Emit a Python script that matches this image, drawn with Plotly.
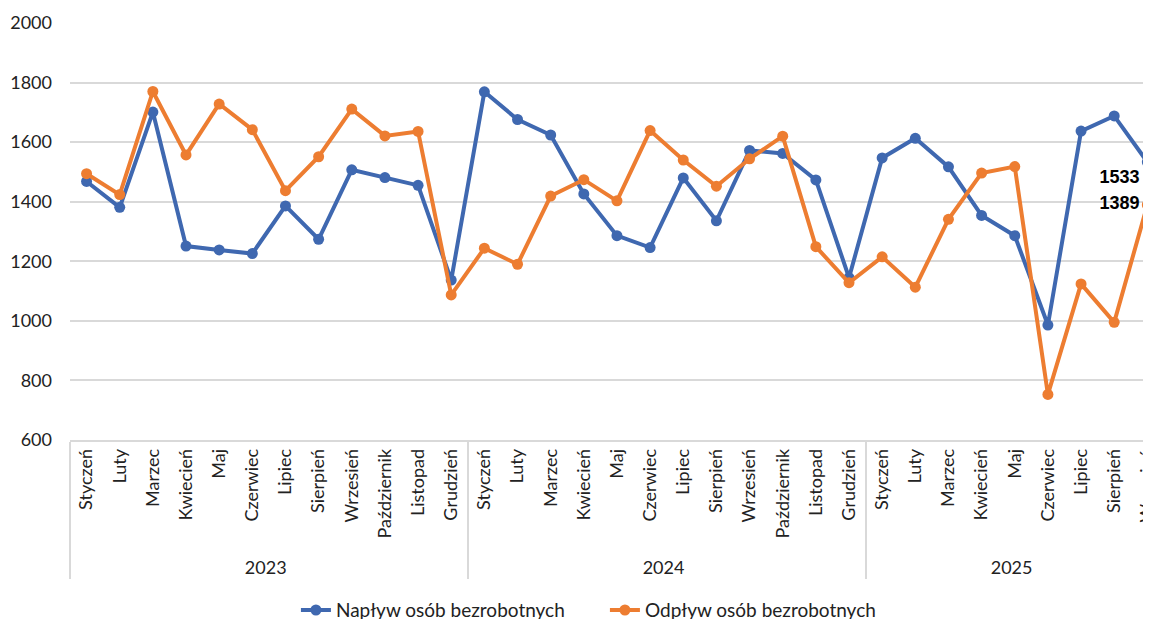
import plotly.graph_objects as go

months = ["Styczeń", "Luty", "Marzec", "Kwiecień", "Maj", "Czerwiec", "Lipiec",
          "Sierpień", "Wrzesień", "Październik", "Listopad", "Grudzień"]
years = ["2023"] * 12 + ["2024"] * 12 + ["2025"] * 9
month_labels = months + months + months[:9]

naplyw = [1468, 1381, 1701, 1251, 1238, 1226, 1386, 1274, 1507, 1481, 1455, 1137,
          1769, 1676, 1624, 1426, 1286, 1246, 1480, 1336, 1572, 1562, 1473, 1145,
          1547, 1613, 1517, 1354, 1286, 986, 1637, 1688, 1533]
odplyw = [1494, 1424, 1770, 1557, 1728, 1642, 1437, 1551, 1711, 1621, 1636, 1087,
          1244, 1190, 1419, 1474, 1403, 1639, 1540, 1452, 1544, 1620, 1249, 1128,
          1215, 1113, 1341, 1496, 1518, 753, 1124, 995, 1389]

names = ["Napływ osób bezrobotnych", "Odpływ osób bezrobotnych"]
colors = ["#3F68B0", "#ED7D31"]

def last_label(vals):
    return [""] * (len(vals) - 1) + [str(vals[-1])]

fig = go.Figure()
for vals, name, col, pos in [(naplyw, names[0], colors[0], "bottom left"),
                             (odplyw, names[1], colors[1], "middle left")]:
    fig.add_trace(go.Scatter(
        x=[years, month_labels], y=vals, name=name,
        mode="lines+markers+text",
        line=dict(color=col, width=4),
        marker=dict(color=col, size=11),
        text=last_label(vals), textposition=pos,
        textfont=dict(family="Liberation Sans", size=18, color="#000000", weight="bold"),
        cliponaxis=False,
    ))

fig.update_layout(
    width=1143, height=611,
    margin=dict(l=62, r=0, t=15, b=179, autoexpand=False),
    paper_bgcolor="white", plot_bgcolor="white",
    font=dict(family="Lato", size=18, color="#222222"),
    showlegend=True,
    legend=dict(orientation="h", x=0.209, xanchor="left", y=-0.408, yanchor="middle",
                font=dict(family="Lato", size=19, color="#222222"),
                entrywidth=264, entrywidthmode="pixels"),
)
fig.update_xaxes(
    type="multicategory", range=[-0.5, 32.11], automargin=False,
    tickangle=-90, tickfont=dict(family="Lato", size=18, color="#222222"),
    showline=True, linecolor="#D9D9D9", linewidth=1.5,
    showgrid=False, ticks="", showdividers=True, dividercolor="#D9D9D9", dividerwidth=1.5,
)
fig.update_yaxes(
    range=[600, 2000], tickvals=[600, 800, 1000, 1200, 1400, 1600, 1800, 2000],
    showgrid=True, gridcolor="#D9D9D9", gridwidth=1.5, zeroline=False, automargin=False,
    showline=False, ticks="", ticklabelstandoff=17,
    tickfont=dict(family="Lato", size=18, color="#222222"),
)

fig.write_html("out.html")
